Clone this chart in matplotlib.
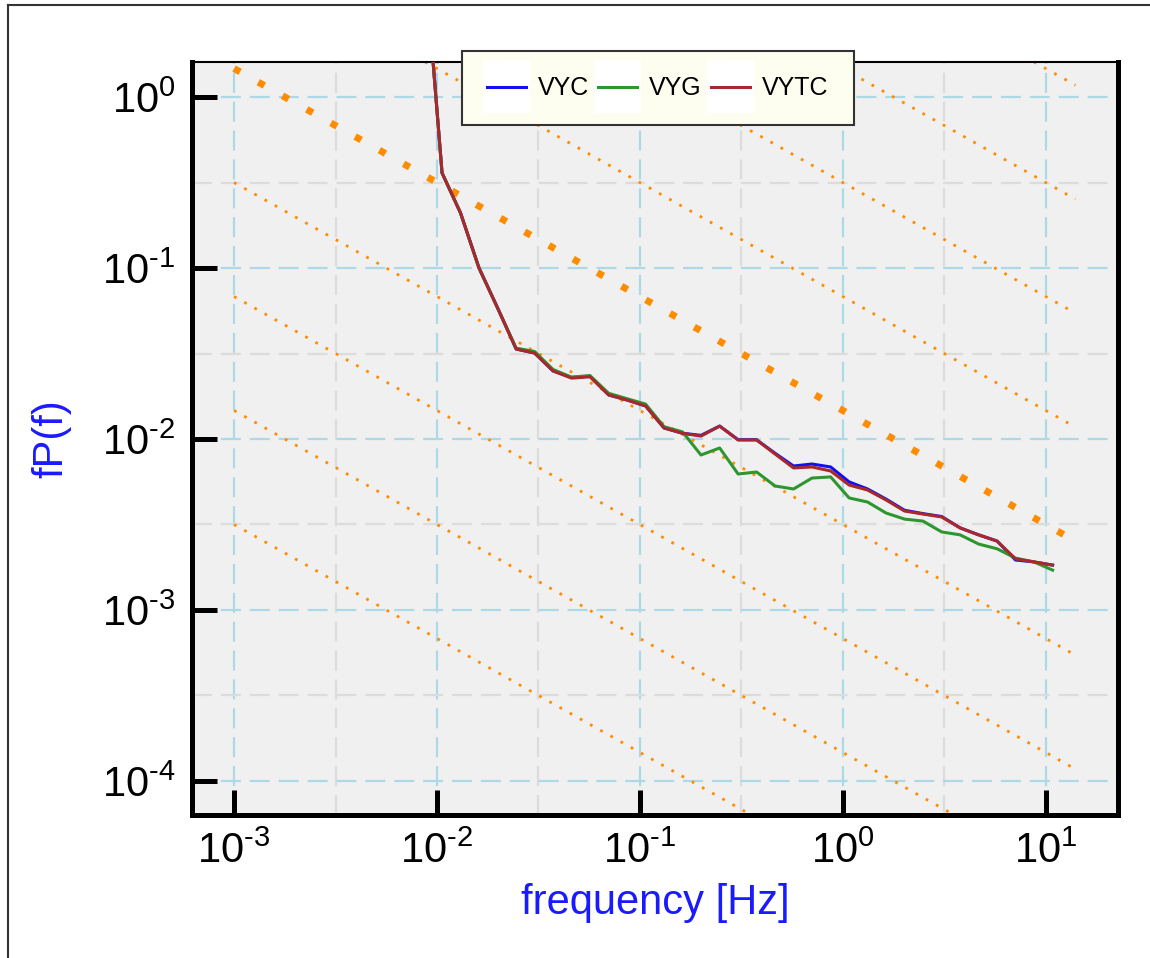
import numpy as np
import matplotlib
matplotlib.use("Agg")
from matplotlib import pyplot as plt
from matplotlib.lines import Line2D
from matplotlib.patches import Rectangle
from matplotlib.legend_handler import HandlerLine2D
from matplotlib.ticker import FixedLocator, FixedFormatter, NullFormatter

plt.rcParams['font.family'] = ['Liberation Sans', 'DejaVu Sans']
plt.rcParams['mathtext.fontset'] = 'custom'
plt.rcParams['mathtext.rm'] = 'Liberation Sans'
plt.rcParams['mathtext.it'] = 'Liberation Sans:italic'
plt.rcParams['mathtext.default'] = 'regular'

# frequency bins [Hz]
freq = [0.00859, 0.01059, 0.01306, 0.01611, 0.01989, 0.02455, 0.03027, 0.03733,
        0.04603, 0.05675, 0.07015, 0.08650, 0.1067, 0.1315, 0.1622, 0.2000,
        0.2472, 0.3048, 0.3758, 0.4634, 0.5715, 0.7047, 0.8710, 1.074,
        1.324, 1.633, 2.014, 2.483, 3.069, 3.784, 4.667, 5.754, 7.096, 8.750, 10.81]

vytc = [7.8, 0.360, 0.210, 0.100, 0.0584, 0.0336, 0.0318, 0.0250, 0.0227, 0.0231,
        0.0181, 0.0169, 0.0156, 0.0116, 0.0108, 0.0104, 0.0119, 0.00987, 0.00987,
        0.00817, 0.00677, 0.00686, 0.00650, 0.00538, 0.00503, 0.00440, 0.00379,
        0.00364, 0.00350, 0.00302, 0.00275, 0.00253, 0.00199, 0.00191, 0.00183]

vyc = [7.8, 0.360, 0.210, 0.100, 0.0584, 0.0336, 0.0318, 0.0250, 0.0229, 0.0233,
       0.0181, 0.0169, 0.0156, 0.0116, 0.0108, 0.0105, 0.0119, 0.00990, 0.00990,
       0.00825, 0.00695, 0.00714, 0.00686, 0.00561, 0.00510, 0.00445, 0.00383,
       0.00366, 0.00352, 0.00302, 0.00275, 0.00253, 0.00196, 0.00191, 0.00183]

vyg = [7.8, 0.360, 0.210, 0.100, 0.0584, 0.0340, 0.0325, 0.0255, 0.0230, 0.0235,
       0.0185, 0.0172, 0.0160, 0.0118, 0.0110, 0.00806, 0.00886, 0.00624, 0.00641,
       0.00531, 0.00510, 0.00591, 0.00600, 0.00452, 0.00428, 0.00369, 0.00340,
       0.00331, 0.00286, 0.00275, 0.00243, 0.00228, 0.00201, 0.00191, 0.00171]

names = ['VYC', 'VYG', 'VYTC']
colors = ['#1010f0', '#2e962e', '#a8282c']

xticks = [1e-3, 1e-2, 1e-1, 1e0, 1e1]
xticklabels = [r'$10^{\text{-3}}$', r'$10^{\text{-2}}$', r'$10^{\text{-1}}$',
               r'$10^{\text{0}}$', r'$10^{\text{1}}$']
yticks = [1e-4, 1e-3, 1e-2, 1e-1, 1e0]
yticklabels = [r'$10^{\text{-4}}$', r'$10^{\text{-3}}$', r'$10^{\text{-2}}$',
               r'$10^{\text{-1}}$', r'$10^{\text{0}}$']

# f^(-2/3) reference lines: log10 of prefactor
ref_logc = [-4.5, -3.8333, -3.1667, -2.5, -1.8333, -1.1667, -0.5, 0.1667, 0.8333]
ref_thick = 4
ref_f = [1e-3, 14.0]


class BoxLine(HandlerLine2D):
    def create_artists(self, legend, orig_handle, xdescent, ydescent,
                       width, height, fontsize, trans):
        arts = super().create_artists(legend, orig_handle, xdescent, ydescent,
                                      width, height, fontsize, trans)
        r = Rectangle((-xdescent - 3, -ydescent - 13), width + 6, height + 26,
                      facecolor='white', edgecolor='none', transform=trans)
        return [r] + arts


fig = plt.figure(figsize=(11.5, 9.58), dpi=100)
ax = fig.add_axes([0.167, 0.1493, 0.805, 0.786])
ax.set_facecolor('#f0f0f0')

for i, lc in enumerate(ref_logc):
    y = [10 ** lc * f ** (-2.0 / 3.0) for f in ref_f]
    if i == ref_thick:
        ax.plot(ref_f, y, color='#ff8c00', lw=5, ls=(0, (1, 3)), zorder=2)
    else:
        ax.plot(ref_f, y, color='#ff8c00', lw=2, ls=(0, (1, 3.2)), zorder=2)

for name, vals, c in zip(names, [vyc, vyg, vytc], colors):
    ax.plot(freq, vals, color=c, lw=2.2, label=name, zorder=3)

ax.set_xscale('log')
ax.set_yscale('log')
ax.set_xlim(10 ** -3.207, 10 ** 1.355)
ax.set_ylim(10 ** -4.199, 10 ** 0.205)

ax.xaxis.set_major_locator(FixedLocator(xticks))
ax.xaxis.set_major_formatter(FixedFormatter(xticklabels))
ax.yaxis.set_major_locator(FixedLocator(yticks))
ax.yaxis.set_major_formatter(FixedFormatter(yticklabels))
ax.xaxis.set_minor_locator(FixedLocator([10 ** (k + 0.5) for k in range(-4, 2)]))
ax.yaxis.set_minor_locator(FixedLocator([10 ** (k + 0.5) for k in range(-5, 1)]))
ax.xaxis.set_minor_formatter(NullFormatter())
ax.yaxis.set_minor_formatter(NullFormatter())

ax.grid(True, which='major', color='#add8e6', lw=1.6, ls=(0, (9, 4)), zorder=1)
ax.grid(True, which='minor', color='#dcdcdc', lw=1.6, ls=(0, (9, 4)), zorder=1)
ax.set_axisbelow(True)

ax.tick_params(which='major', direction='in', length=18, width=3.6,
               labelsize=30, pad=12, top=False, right=False)
ax.tick_params(which='minor', length=0)
for s in ['left', 'bottom', 'right']:
    ax.spines[s].set_linewidth(3.6)
ax.spines['top'].set_linewidth(1.5)

ax.set_xlabel('frequency [Hz]', fontsize=30, color='#1a1aff', labelpad=8)
ax.set_ylabel('fP(f)', fontsize=30, color='#1a1aff', labelpad=22)

leg = ax.legend(loc='upper center', bbox_to_anchor=(0.503, 1.014), ncol=3,
                fontsize=18, frameon=True, fancybox=False, borderaxespad=0,
                handlelength=1.55, handletextpad=0.5, columnspacing=0.35,
                borderpad=1.0, handler_map={Line2D: BoxLine()})
leg.get_frame().set_facecolor('#fdfdf0')
leg.get_frame().set_edgecolor('#333333')
leg.get_frame().set_linewidth(1.5)
leg.get_frame().set_alpha(1)
leg.set_zorder(5)

# figure border (top and left only)
fig.add_artist(Line2D([0.007, 0.007], [0.0, 0.995], transform=fig.transFigure,
                      color='#333333', lw=1.5))
fig.add_artist(Line2D([0.007, 1.0], [0.995, 0.995], transform=fig.transFigure,
                      color='#333333', lw=1.5))

fig.savefig('out.png', dpi=100)
